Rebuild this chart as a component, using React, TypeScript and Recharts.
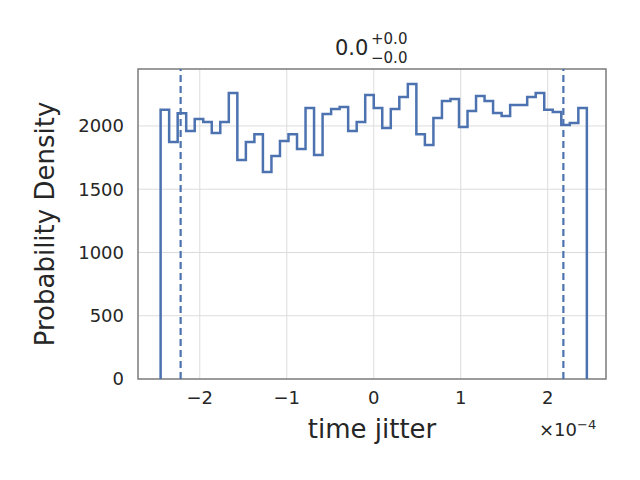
import { LineChart, Line, XAxis, YAxis, CartesianGrid, ReferenceLine, ReferenceArea } from "recharts";

// histogram of time jitter, in units of 1e-4
const binStart = -2.45;
const binEnd = 2.45;
const densities = [
  2127, 1873, 2100, 1960, 2055, 2032, 1945, 2032, 2260, 1730,
  1873, 1935, 1636, 1763, 1881, 1935, 1818, 2142, 1770, 2095,
  2134, 2150, 1960, 2032, 2245, 2142, 1984, 2134, 2229, 2332,
  1935, 1850, 2063, 2198, 2213, 1992, 2119, 2237, 2198, 2103,
  2079, 2166, 2166, 2229, 2261, 2127, 2111, 2008, 2024, 2142,
];
const quantiles = [-2.22, 2.18];
const xTicks = [-2, -1, 0, 1, 2];
const yTicks = [0, 500, 1000, 1500, 2000];

const width = (binEnd - binStart) / densities.length;
const data = [
  { x: binStart, y: 0 },
  ...densities.map((v, i) => ({ x: binStart + i * width, y: v })),
  { x: binEnd, y: densities[densities.length - 1] },
  { x: binEnd, y: 0 },
];

const font = "'DejaVu Sans', sans-serif";
const ink = "#262626";

export default function App() {
  return (
    <div style={{ position: "relative", width: 640, height: 480, margin: -8, background: "#fff", fontFamily: font, color: ink }}>
      <LineChart width={640} height={480} data={data} margin={{ top: 69, right: 34, bottom: 71, left: 0 }}>
        <CartesianGrid stroke="#dcdcdc" />
        <XAxis
          dataKey="x"
          type="number"
          domain={[-2.71, 2.67]}
          ticks={xTicks}
          tickFormatter={(v) => (v < 0 ? `\u2212${-v}` : `${v}`)}
          tickLine={false}
          axisLine={false}
          height={30}
          tick={{ fill: ink, fontSize: 18, fontFamily: font }}
          tickMargin={6}
        />
        <YAxis
          type="number"
          domain={[0, 2450]}
          ticks={yTicks}
          tickLine={false}
          axisLine={false}
          width={138}
          tick={{ fill: ink, fontSize: 18, fontFamily: font }}
          tickMargin={8}
        />
        <ReferenceArea x1={-2.71} x2={2.67} y1={0} y2={2450} fill="none" stroke="#808080" strokeWidth={1.5} />
        {quantiles.map((q) => (
          <ReferenceLine key={q} x={q} stroke="#4c72b0" strokeWidth={2.2} strokeDasharray="7 4" />
        ))}
        <Line type="stepAfter" dataKey="y" stroke="#4c72b0" strokeWidth={2.5} dot={false} isAnimationActive={false} />
      </LineChart>
      <div style={{ position: "absolute", left: 335, top: 36, fontSize: 21 }}>
        0.0
        <span style={{ position: "absolute", left: 36, top: -6, fontSize: 15, whiteSpace: "nowrap" }}>+0.0</span>
        <span style={{ position: "absolute", left: 36, top: 13, fontSize: 15, whiteSpace: "nowrap" }}>−0.0</span>
      </div>
      <div style={{ position: "absolute", left: 0, width: 744, top: 414, textAlign: "center", fontSize: 26 }}>time jitter</div>
      <div style={{ position: "absolute", left: 539, top: 417, fontSize: 18, whiteSpace: "nowrap" }}>
        ×10<sup style={{ fontSize: 13 }}>−4</sup>
      </div>
      <div
        style={{
          position: "absolute", left: 45, top: 224, fontSize: 26, whiteSpace: "nowrap",
          transform: "translate(-50%, -50%) rotate(-90deg)",
        }}
      >
        Probability Density
      </div>
    </div>
  );
}
